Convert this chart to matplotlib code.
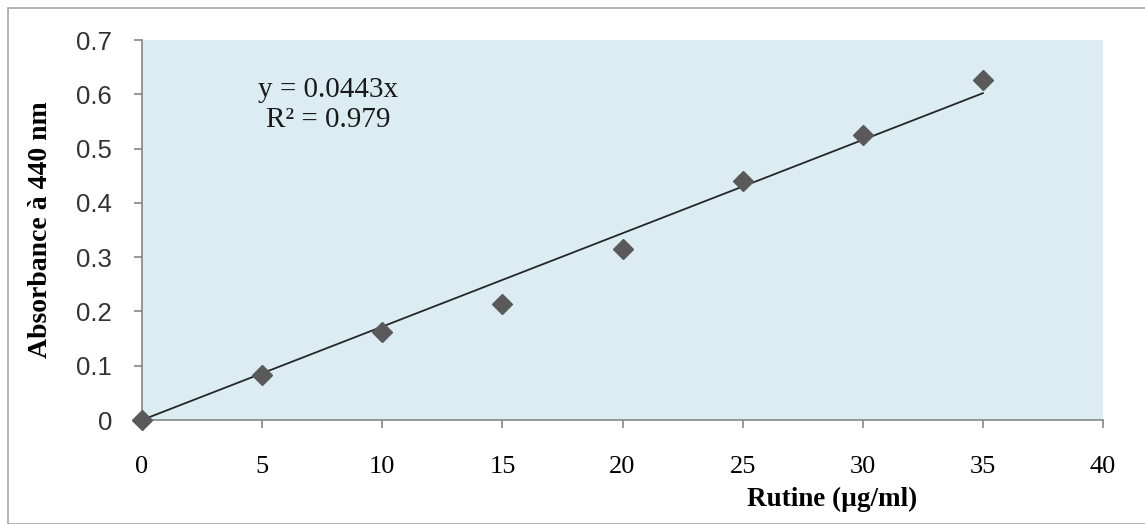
import numpy as np
import matplotlib.pyplot as plt
from matplotlib.patches import Rectangle

# data
rutine = np.array([0, 5, 10, 15, 20, 25, 30, 35])
absorbance = np.array([0.0, 0.083, 0.162, 0.214, 0.315, 0.440, 0.525, 0.626])
x_ticks = [0, 5, 10, 15, 20, 25, 30, 35, 40]
y_ticks = [0, 0.1, 0.2, 0.3, 0.4, 0.5, 0.6, 0.7]
y_tick_labels = ["0", "0.1", "0.2", "0.3", "0.4", "0.5", "0.6", "0.7"]
equation_text = "y = 0.0443x\nR² = 0.979"

# linear trend through origin
slope = np.sum(rutine * absorbance) / np.sum(rutine ** 2)

fig = plt.figure(figsize=(11.45, 5.24), dpi=100)
fig.patches.append(Rectangle((8 / 1145, 0), 1.0, 1 - 8 / 524, transform=fig.transFigure,
                             fill=False, edgecolor="#a6a6a6", linewidth=1.2))
ax = fig.add_axes([142 / 1145, 1 - 420 / 524, (1103 - 142) / 1145, (420 - 40) / 524])
ax.set_facecolor("#dbedf3")

ax.plot(rutine, slope * rutine, color="#262626", linewidth=1.3, zorder=2)
ax.plot(rutine, absorbance, linestyle="none", marker="D", markersize=10.5,
        color="#595959", zorder=3, clip_on=False)

ax.set_xlim(0, 40)
ax.set_ylim(0, 0.7)
ax.set_xticks(x_ticks)
ax.set_yticks(y_ticks)
ax.set_yticklabels(y_tick_labels)

for side in ("top", "right"):
    ax.spines[side].set_visible(False)
for side in ("left", "bottom"):
    ax.spines[side].set_color("#868686")
    ax.spines[side].set_linewidth(1.2)

ax.tick_params(axis="x", direction="out", length=6, width=1.2, color="#868686",
               pad=20, labelsize=19)
ax.tick_params(axis="y", direction="out", length=6, width=1.2, color="#868686",
               pad=15.5, labelsize=18.5)
for lbl in ax.get_xticklabels():
    lbl.set_fontfamily("Liberation Serif")
for lbl in ax.get_yticklabels():
    lbl.set_fontfamily("Liberation Sans")
    lbl.set_color("#333333")

ax.set_xlabel("Rutine (µg/ml)", fontfamily="Liberation Serif", fontweight="bold",
              fontsize=19.5)
ax.xaxis.set_label_coords((832 - 142) / 961, -0.176)
ax.set_ylabel("Absorbance à 440 nm", fontfamily="Liberation Serif", fontweight="bold",
              fontsize=20)
ax.yaxis.set_label_coords(-0.093, 0.5)

ax.text(7.74, 0.58, equation_text, fontfamily="Liberation Serif", fontsize=21,
        ha="center", va="center", linespacing=1.17, color="#1a1a1a")

fig.savefig("out.png", dpi=100)
